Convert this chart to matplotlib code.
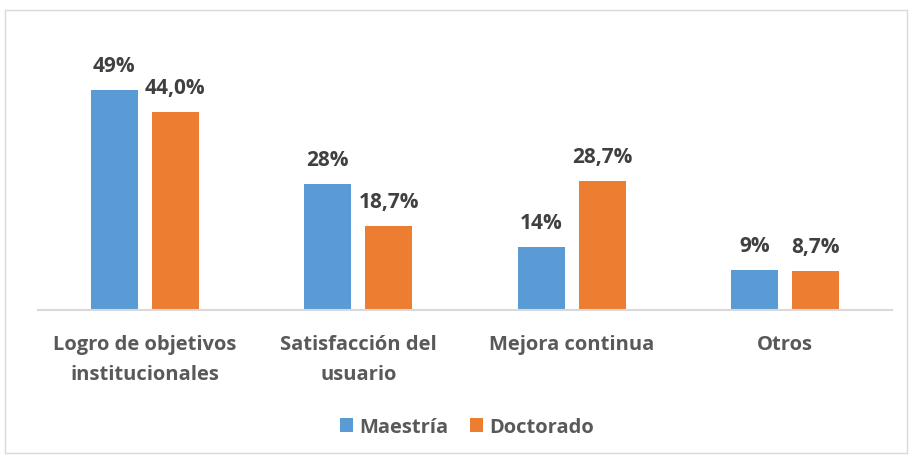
import numpy as np
import matplotlib.pyplot as plt
from matplotlib.patches import Rectangle

categories = ['Logro de objetivos\ninstitucionales', 'Satisfacción del\nusuario',
              'Mejora continua', 'Otros']
maestria = [49, 28, 14, 9]
doctorado = [44.0, 18.7, 28.7, 8.7]
maestria_labels = ['49%', '28%', '14%', '9%']
doctorado_labels = ['44,0%', '18,7%', '28,7%', '8,7%']

plt.rcParams['font.family'] = ['Open Sans', 'DejaVu Sans']
plt.rcParams['font.weight'] = 'bold'

fig = plt.figure(figsize=(9.1, 4.56), dpi=100)
# light border round the whole chart
fig.patches.append(Rectangle((5 / 910, 2 / 456), 902 / 910, 443 / 456, transform=fig.transFigure,
                             fill=False, edgecolor='#D9D9D9', linewidth=1))

ax = fig.add_axes([38 / 910, 1 - 311 / 456, 854 / 910, 270 / 456])
x = np.arange(len(categories))
w = 0.22
off = 0.143
b1 = ax.bar(x - off, maestria, w, color='#5B9BD5', label='Maestría')
b2 = ax.bar(x + off, doctorado, w, color='#ED7D31', label='Doctorado')

for bars, labels in ((b1, maestria_labels), (b2, doctorado_labels)):
    for rect, lab in zip(bars, labels):
        ax.annotate(lab, (rect.get_x() + rect.get_width() / 2, rect.get_height()),
                    xytext=(0, 10), textcoords='offset points', ha='center', va='bottom',
                    fontsize=15, fontweight='bold', color='#404040')

ax.set_xlim(-0.5, 3.5)
ax.set_ylim(0, 60)
ax.set_xticks(x)
ax.set_xticklabels(categories, fontsize=14.5, fontweight='bold', color='#595959', linespacing=1.7)
ax.tick_params(axis='x', length=0, pad=17)
ax.set_yticks([])
for s in ['top', 'right', 'left']:
    ax.spines[s].set_visible(False)
ax.spines['bottom'].set_color('#D9D9D9')
ax.spines['bottom'].set_linewidth(1.5)

leg = fig.legend(loc='center', bbox_to_anchor=(467 / 910, 1 - 428 / 456), ncol=2, frameon=False,
                 fontsize=14.5, handlelength=0.65, handleheight=0.65, handletextpad=0.3,
                 columnspacing=1.1)
for t in leg.get_texts():
    t.set_color('#595959')
    t.set_fontweight('bold')

fig.savefig('out.png', dpi=100)
